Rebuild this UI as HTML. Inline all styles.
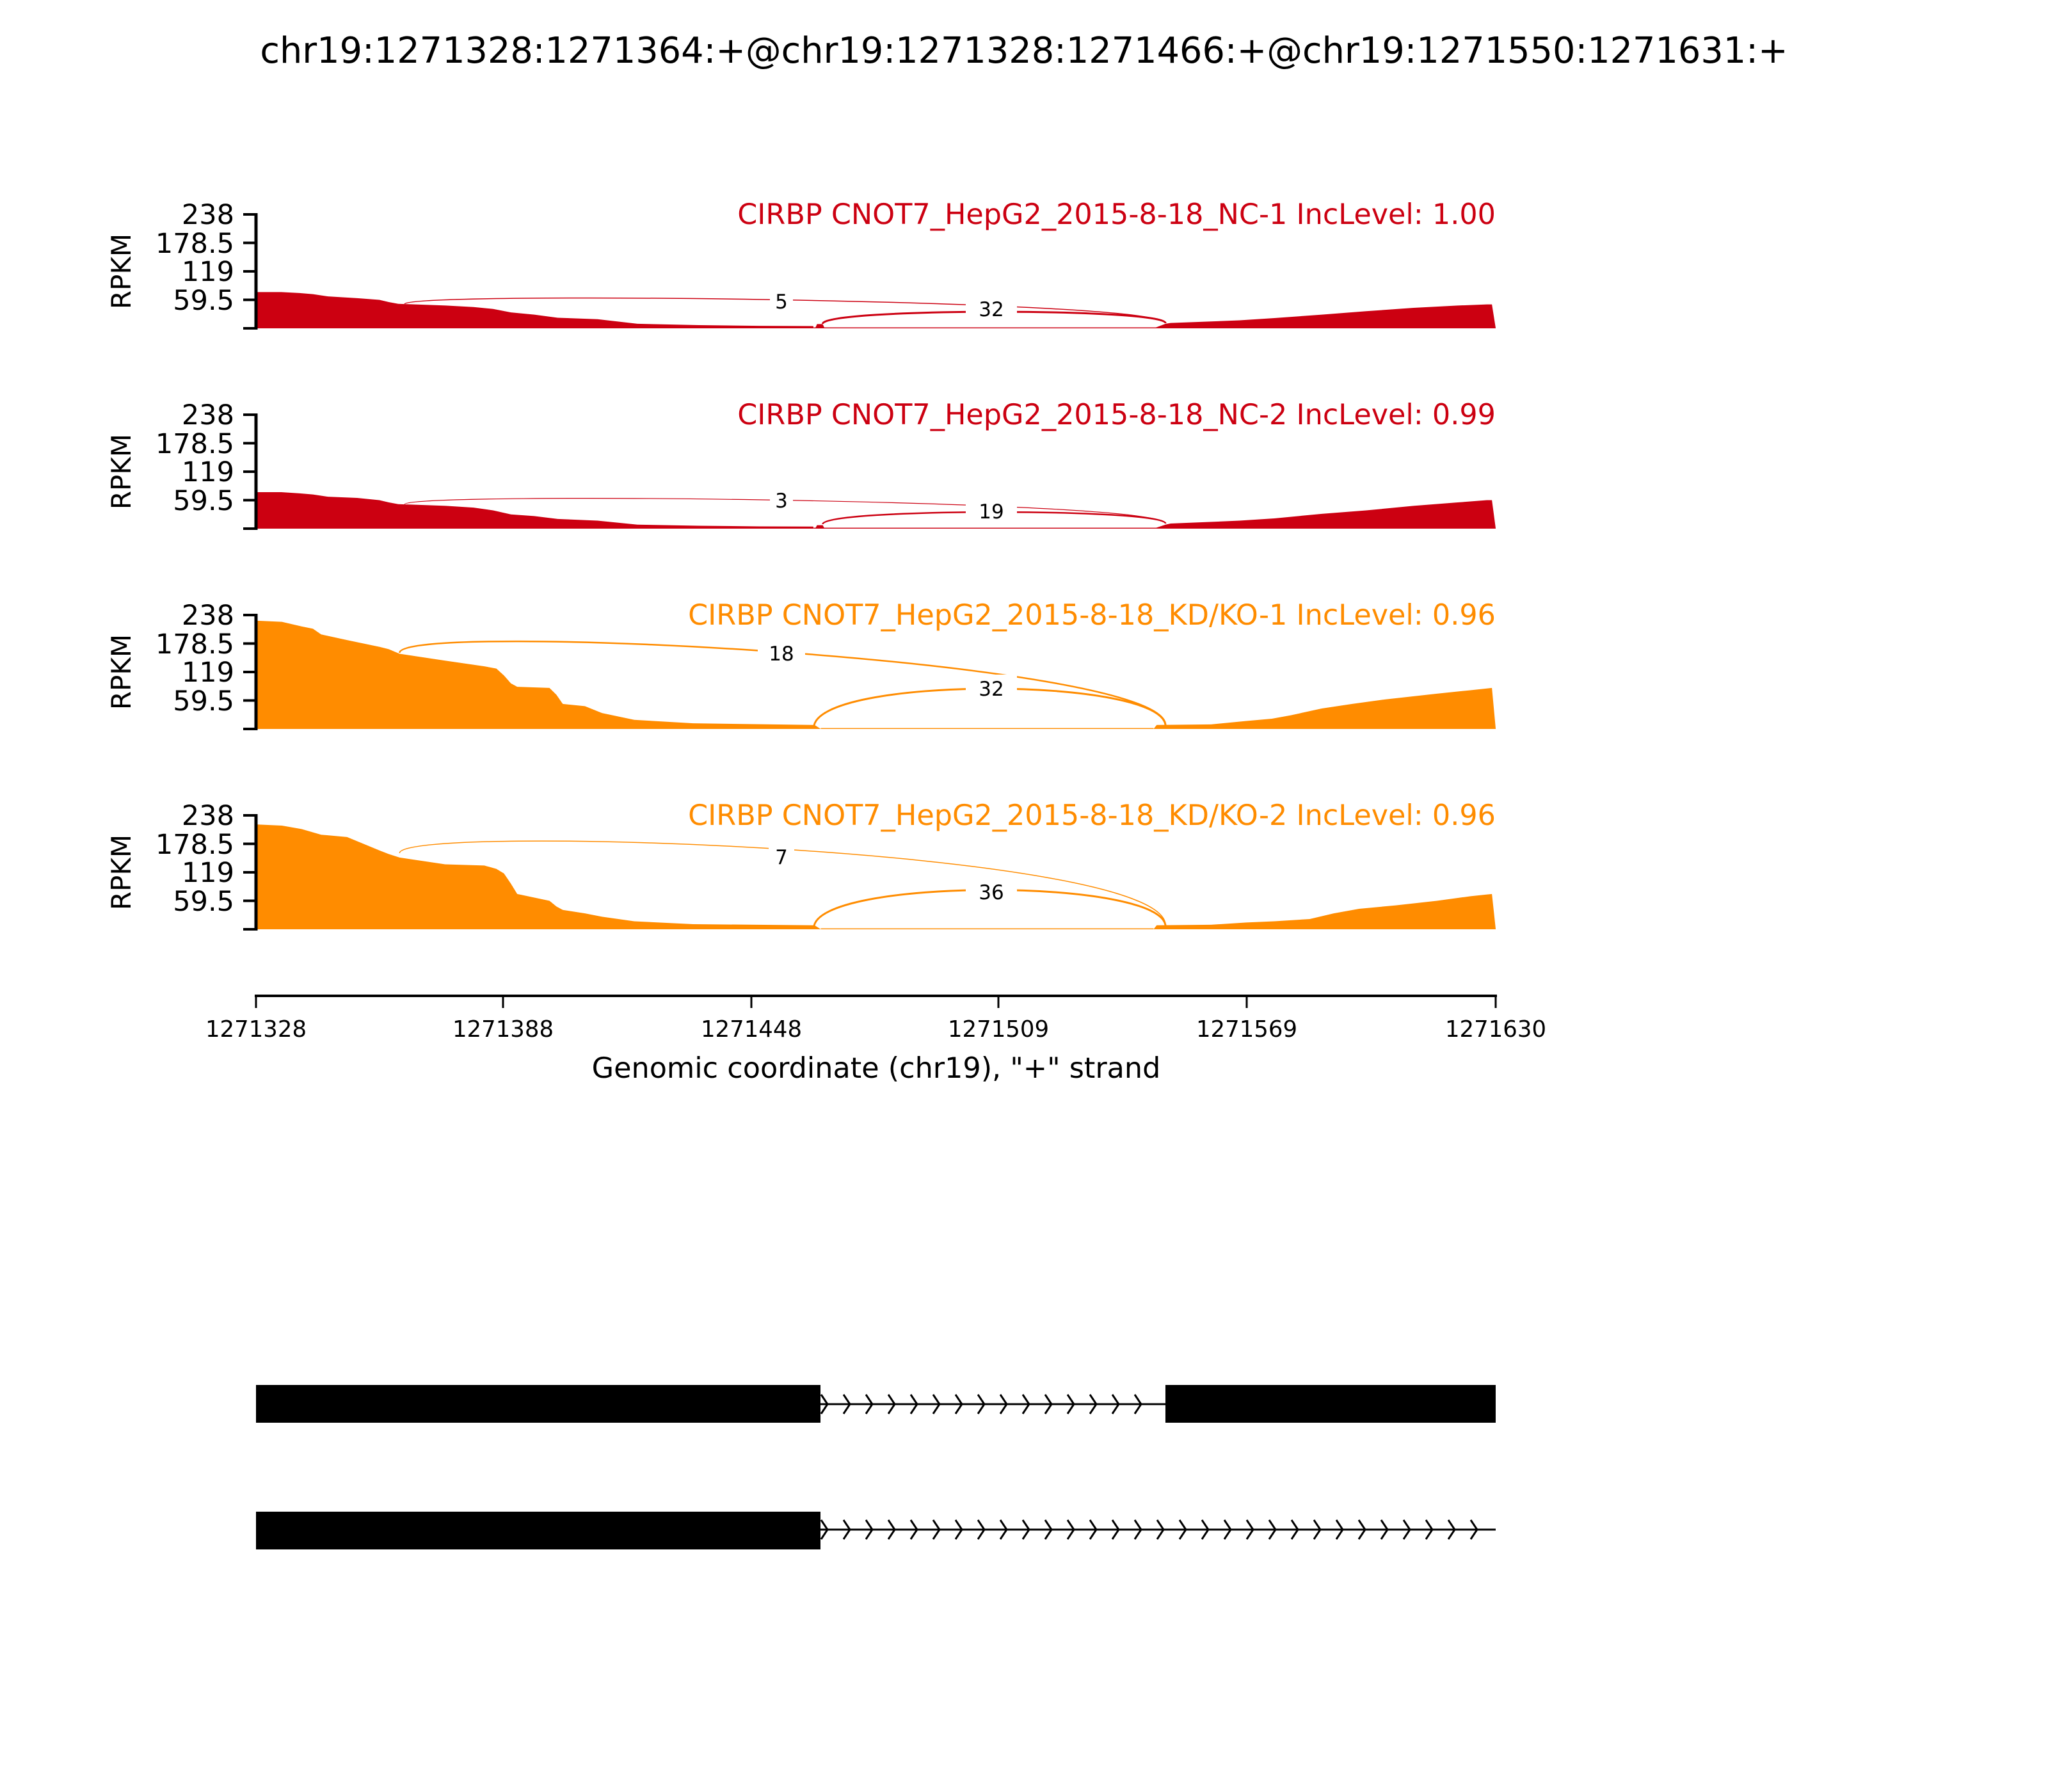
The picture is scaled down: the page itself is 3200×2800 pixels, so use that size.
<!DOCTYPE html>
<html><head><meta charset="utf-8"><style>
html,body{margin:0;padding:0;background:#fff}
svg{display:block}
text{font-family:"DejaVu Sans","Liberation Sans",sans-serif}
</style></head><body>
<svg width="3200" height="2800" viewBox="0 0 3200 2800" xmlns="http://www.w3.org/2000/svg">
<defs>
<pattern id="chev1" patternUnits="userSpaceOnUse" x="1282" y="2178" width="35" height="32">
<path d="M1,1 l10,15 l-10,15" fill="none" stroke="#000" stroke-width="3"/>
</pattern>
<pattern id="chev2" patternUnits="userSpaceOnUse" x="1282" y="2374" width="35" height="32">
<path d="M1,1 l10,15 l-10,15" fill="none" stroke="#000" stroke-width="3"/>
</pattern>
</defs>
<rect width="3200" height="2800" fill="#fff"/>
<text x="1600" y="98" font-size="55.7" text-anchor="middle">chr19:1271328:1271364:+@chr19:1271328:1271466:+@chr19:1271550:1271631:+</text>

<g transform="translate(400,0) scale(0.9883,1) translate(-400,0)">
<!-- Panel 1 shapes -->
<g transform="translate(0,513) scale(1,-178)" fill="#CC0011">
<polygon points="402,0 402,0.318 440,0.318 469,0.31 490,0.3 514,0.28 560,0.265 595,0.25 610,0.23 625,0.215 700,0.2 744,0.187 775,0.17 803,0.14 840,0.12 877,0.093 940,0.08 1003,0.04 1100,0.028 1196,0.022 1281,0.02 1282,0 "/>
<polygon points="1284,0 1287,0.037 1296,0.037 1299,0 "/>
<polygon points="1819,0 1838,0.04 1846,0.047 1955,0.07 2010,0.09 2085,0.12 2155,0.15 2230,0.18 2300,0.2 2346,0.21 2354,0.21 2360,0"/>
<rect x="1282" y="0" width="556" height="0.008"/>
</g>
<path d="M635,475 C635,455 1838,468 1838,505" fill="none" stroke="#CC0011" stroke-width="1.5"/>
<path d="M1296,506 C1296,481 1838,481 1838,505" fill="none" stroke="#CC0011" stroke-width="3"/>
<!-- Panel 2 shapes -->
<g transform="translate(0,826) scale(1,-178)" fill="#CC0011">
<polygon points="402,0 402,0.32 440,0.32 469,0.31 490,0.3 514,0.28 560,0.27 595,0.25 610,0.23 625,0.215 700,0.2 744,0.185 775,0.16 803,0.125 840,0.11 877,0.085 940,0.07 1003,0.035 1100,0.025 1196,0.02 1281,0.018 1282,0"/>
<polygon points="1284,0 1287,0.03 1296,0.03 1299,0"/>
<polygon points="1819,0 1838,0.035 1846,0.045 1955,0.07 2010,0.09 2085,0.13 2155,0.16 2230,0.2 2300,0.23 2346,0.25 2354,0.25 2360,0"/>
<rect x="1282" y="0" width="556" height="0.008"/>
</g>
<path d="M635,788 C635,768 1838,781 1838,818" fill="none" stroke="#CC0011" stroke-width="1.2"/>
<path d="M1296,819 C1296,794 1838,794 1838,818" fill="none" stroke="#CC0011" stroke-width="2.5"/>
<!-- Panel 3 shapes -->
<g transform="translate(0,1139) scale(1,-178)" fill="#FF8C00">
<polygon points="402,0 402,0.95 441,0.94 472,0.9 490,0.88 503,0.83 544,0.78 596,0.72 610,0.7 627,0.66 699,0.6 761,0.55 780,0.53 792,0.47 803,0.4 813,0.37 864,0.36 875,0.3 885,0.22 920,0.2 947,0.14 998,0.08 1091,0.05 1283,0.035 1293,0"/>
<polygon points="1819,0 1824,0.035 1910,0.04 1966,0.07 2006,0.09 2036,0.12 2085,0.18 2133,0.22 2186,0.26 2267,0.31 2320,0.34 2354,0.36 2360,0"/>
<rect x="1293" y="0" width="526" height="0.008"/>
</g>
<path d="M627,1020 C627,970 1838,1030 1838,1133" fill="none" stroke="#FF8C00" stroke-width="2.5"/>
<path d="M1282,1137 C1282,1056 1838,1056 1838,1135" fill="none" stroke="#FF8C00" stroke-width="3"/>
<!-- Panel 4 shapes -->
<g transform="translate(0,1452) scale(1,-178)" fill="#FF8C00">
<polygon points="402,0 402,0.92 441,0.91 472,0.88 503,0.83 544,0.81 596,0.69 610,0.66 627,0.63 699,0.57 761,0.56 780,0.53 792,0.49 803,0.4 813,0.31 864,0.25 875,0.2 885,0.17 920,0.14 947,0.11 998,0.07 1091,0.045 1283,0.035 1293,0"/>
<polygon points="1819,0 1824,0.035 1910,0.04 1966,0.06 2010,0.07 2066,0.09 2104,0.14 2144,0.18 2202,0.21 2267,0.25 2320,0.29 2354,0.31 2360,0"/>
<rect x="1293" y="0" width="526" height="0.008"/>
</g>
<path d="M627,1333 C627,1287 1838,1325 1838,1446" fill="none" stroke="#FF8C00" stroke-width="1.5"/>
<path d="M1282,1450 C1282,1371 1838,1371 1838,1448" fill="none" stroke="#FF8C00" stroke-width="3"/>
</g>

<!-- junction labels -->
<g font-size="31" text-anchor="middle">
<rect x="1203" y="455" width="36" height="38" fill="#fff"/><text x="1221" y="482">5</text>
<rect x="1509" y="465" width="80" height="38" fill="#fff"/><text x="1549" y="494">32</text>
<rect x="1203" y="765" width="36" height="38" fill="#fff"/><text x="1221" y="793">3</text>
<rect x="1509" y="781" width="80" height="38" fill="#fff"/><text x="1549" y="810">19</text>
<rect x="1184" y="1000" width="74" height="42" fill="#fff"/><text x="1221" y="1032">18</text>
<rect x="1509" y="1054" width="80" height="44" fill="#fff"/><text x="1549" y="1087">32</text>
<rect x="1201" y="1318" width="40" height="40" fill="#fff"/><text x="1221" y="1350">7</text>
<rect x="1509" y="1372" width="80" height="44" fill="#fff"/><text x="1549" y="1405">36</text>
</g>

<!-- axes and labels for panels -->
<g stroke="#000">
<line x1="400" y1="333" x2="400" y2="515" stroke-width="5"/>
<line x1="400" y1="646" x2="400" y2="828" stroke-width="5"/>
<line x1="400" y1="959" x2="400" y2="1141" stroke-width="5"/>
<line x1="400" y1="1272" x2="400" y2="1454" stroke-width="5"/>
<g stroke-width="4">
<line x1="380" y1="335" x2="400" y2="335"/><line x1="380" y1="379.5" x2="400" y2="379.5"/><line x1="380" y1="424" x2="400" y2="424"/><line x1="380" y1="468.5" x2="400" y2="468.5"/><line x1="380" y1="513" x2="400" y2="513"/>
<line x1="380" y1="648" x2="400" y2="648"/><line x1="380" y1="692.5" x2="400" y2="692.5"/><line x1="380" y1="737" x2="400" y2="737"/><line x1="380" y1="781.5" x2="400" y2="781.5"/><line x1="380" y1="826" x2="400" y2="826"/>
<line x1="380" y1="961" x2="400" y2="961"/><line x1="380" y1="1005.5" x2="400" y2="1005.5"/><line x1="380" y1="1050" x2="400" y2="1050"/><line x1="380" y1="1094.5" x2="400" y2="1094.5"/><line x1="380" y1="1139" x2="400" y2="1139"/>
<line x1="380" y1="1274" x2="400" y2="1274"/><line x1="380" y1="1318.5" x2="400" y2="1318.5"/><line x1="380" y1="1363" x2="400" y2="1363"/><line x1="380" y1="1407.5" x2="400" y2="1407.5"/><line x1="380" y1="1452" x2="400" y2="1452"/>
</g>
</g>
<g font-size="43" text-anchor="end">
<text x="366" y="350">238</text><text x="366" y="395">178.5</text><text x="366" y="439">119</text><text x="366" y="484">59.5</text>
<text x="366" y="663">238</text><text x="366" y="708">178.5</text><text x="366" y="752">119</text><text x="366" y="797">59.5</text>
<text x="366" y="976">238</text><text x="366" y="1021">178.5</text><text x="366" y="1065">119</text><text x="366" y="1110">59.5</text>
<text x="366" y="1289">238</text><text x="366" y="1334">178.5</text><text x="366" y="1378">119</text><text x="366" y="1423">59.5</text>
</g>
<g font-size="42" text-anchor="middle">
<text transform="translate(204,424) rotate(-90)">RPKM</text>
<text transform="translate(204,737) rotate(-90)">RPKM</text>
<text transform="translate(204,1050) rotate(-90)">RPKM</text>
<text transform="translate(204,1363) rotate(-90)">RPKM</text>
</g>
<g font-size="44.5" text-anchor="end">
<text x="2337" y="350" fill="#CC0011">CIRBP CNOT7_HepG2_2015-8-18_NC-1 IncLevel: 1.00</text>
<text x="2337" y="663" fill="#CC0011">CIRBP CNOT7_HepG2_2015-8-18_NC-2 IncLevel: 0.99</text>
<text x="2337" y="976" fill="#FF8C00">CIRBP CNOT7_HepG2_2015-8-18_KD/KO-1 IncLevel: 0.96</text>
<text x="2337" y="1289" fill="#FF8C00">CIRBP CNOT7_HepG2_2015-8-18_KD/KO-2 IncLevel: 0.96</text>
</g>

<!-- X axis -->
<line x1="398" y1="1556" x2="2339" y2="1556" stroke="#000" stroke-width="4"/>
<g stroke="#000" stroke-width="3">
<line x1="400" y1="1556" x2="400" y2="1575"/><line x1="786" y1="1556" x2="786" y2="1575"/><line x1="1174" y1="1556" x2="1174" y2="1575"/><line x1="1560" y1="1556" x2="1560" y2="1575"/><line x1="1948" y1="1556" x2="1948" y2="1575"/><line x1="2337" y1="1556" x2="2337" y2="1575"/>
</g>
<g font-size="35.5" text-anchor="middle">
<text x="400" y="1620">1271328</text><text x="786" y="1620">1271388</text><text x="1174" y="1620">1271448</text><text x="1560" y="1620">1271509</text><text x="1948" y="1620">1271569</text><text x="2337" y="1620">1271630</text>
</g>
<text x="1369" y="1684" font-size="44.5" text-anchor="middle">Genomic coordinate (chr19), "+" strand</text>

<!-- Gene structures -->
<line x1="1282" y1="2194" x2="1821" y2="2194" stroke="#000" stroke-width="3"/>
<rect x="1282" y="2178" width="507" height="32" fill="url(#chev1)"/>
<rect x="400" y="2164" width="882" height="59" fill="#000"/>
<rect x="1821" y="2164" width="516" height="59" fill="#000"/>
<line x1="1282" y1="2390" x2="2337" y2="2390" stroke="#000" stroke-width="3"/>
<rect x="1282" y="2374" width="1032" height="32" fill="url(#chev2)"/>
<rect x="400" y="2362" width="882" height="59" fill="#000"/>
</svg>
</body></html>
